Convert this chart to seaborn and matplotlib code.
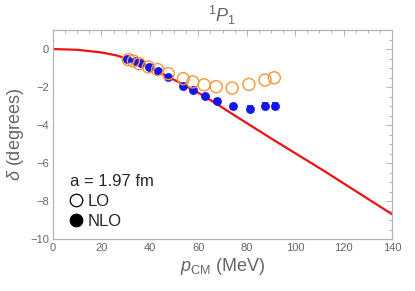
import matplotlib
matplotlib.use("Agg")
import matplotlib.pyplot as plt
from matplotlib.ticker import MultipleLocator, FuncFormatter
from matplotlib.lines import Line2D
import seaborn as sns

# Theory curve
curve_p = [0, 10, 20, 26, 30, 35, 40, 46, 52, 60, 65, 70, 75, 81, 86, 91, 96, 102, 112, 121, 130, 140]
curve_d = [0, -0.04, -0.18, -0.33, -0.48, -0.70, -0.97, -1.35, -1.75, -2.30, -2.68, -3.08,
           -3.49, -3.97, -4.37, -4.77, -5.16, -5.63, -6.41, -7.14, -7.87, -8.68]

# LO (open circles)
lo_p = [31.1, 33.2, 35.6, 39.4, 43.2, 47.6, 53.8, 57.7, 62.4, 67.4, 74.0, 80.9, 87.6, 91.4]
lo_d = [-0.56, -0.63, -0.77, -0.94, -1.08, -1.29, -1.56, -1.73, -1.88, -1.98, -2.05,
        -1.86, -1.63, -1.51]

# NLO (filled circles with error bars)
nlo_p = [30.7, 33.9, 36.2, 39.5, 43.2, 47.6, 53.6, 57.7, 62.8, 67.7, 74.3, 81.2, 87.6, 91.8]
nlo_d = [-0.52, -0.65, -0.75, -0.94, -1.17, -1.48, -1.92, -2.17, -2.47, -2.74, -3.01,
         -3.13, -2.99, -3.01]
nlo_err = [0.03, 0.05, 0.05, 0.05, 0.05, 0.05, 0.06, 0.06, 0.07, 0.10, 0.12, 0.14, 0.15, 0.16]

title = r"$^{1}P_{1}$"
legend_title = "a = 1.97 fm"

sns.set_style("white")
plt.rcParams['font.family'] = ['Liberation Sans', 'DejaVu Sans']
plt.rcParams['mathtext.fontset'] = 'custom'
plt.rcParams['mathtext.rm'] = 'Liberation Sans'
plt.rcParams['mathtext.it'] = 'Liberation Sans:italic'
plt.rcParams['mathtext.bf'] = 'Liberation Sans:bold'

GRAY = "#666666"
FRAME = "#b4b4b4"
ORANGE = "#f5973a"
BLUE = "#1414f0"
RED = "#f01010"

fig = plt.figure(figsize=(4.15, 2.91), dpi=100)
ax = fig.add_axes([53/415, 1-239.3/291, (392-53)/415, (239.3-30)/291])

sns.lineplot(x=curve_p, y=curve_d, ax=ax, color=RED, lw=1.6, zorder=2)

ax.errorbar(nlo_p, nlo_d, yerr=nlo_err, fmt='none', ecolor=BLUE, elinewidth=1.2,
            capsize=2.2, capthick=1.2, zorder=3)
sns.scatterplot(x=nlo_p, y=nlo_d, ax=ax, color=BLUE, s=34, edgecolor=BLUE,
                linewidth=0.5, zorder=4)
sns.scatterplot(x=lo_p, y=lo_d, ax=ax, facecolor='none', edgecolor=ORANGE,
                s=75, linewidth=1.0, marker='o', zorder=5)

ax.set_xlim(0, 140)
ax.set_ylim(-10, 1)
ax.xaxis.set_major_locator(MultipleLocator(20))
ax.xaxis.set_minor_locator(MultipleLocator(5))
ax.yaxis.set_major_locator(MultipleLocator(2))
ax.yaxis.set_minor_locator(MultipleLocator(0.5))
ax.yaxis.set_major_formatter(FuncFormatter(lambda v, _: f"{int(round(v))}".replace("-", "\u2212")))

for s in ax.spines.values():
    s.set_color(FRAME)
    s.set_linewidth(0.9)
ax.tick_params(which='both', direction='in', top=True, right=True, color=FRAME,
               labelcolor=GRAY, labelsize=8, width=0.7)
ax.tick_params(which='major', length=4, pad=3)
ax.tick_params(which='minor', length=2)

ax.set_xlabel(r"$p_{\mathrm{CM}}$ (MeV)", fontsize=13, color=GRAY, labelpad=2)
ax.set_ylabel(r"$\delta$ (degrees)", fontsize=13, color=GRAY, labelpad=3)
ax.set_title(title, fontsize=13, color=GRAY, pad=6)

handles = [Line2D([], [], ls='none', marker='o', mfc='white', mec='black', ms=9, mew=0.9),
           Line2D([], [], ls='none', marker='o', mfc='black', mec='black', ms=9, mew=0.9)]
leg = ax.legend(handles, ["LO", "NLO"], title=legend_title, loc='lower left',
                bbox_to_anchor=(0.02, 0.0), frameon=False, fontsize=12,
                title_fontsize=12, handlelength=0.8, handletextpad=0.3,
                labelspacing=0.3, borderaxespad=0.2)
leg._legend_box.align = "left"

fig.savefig("out.png", dpi=100)
